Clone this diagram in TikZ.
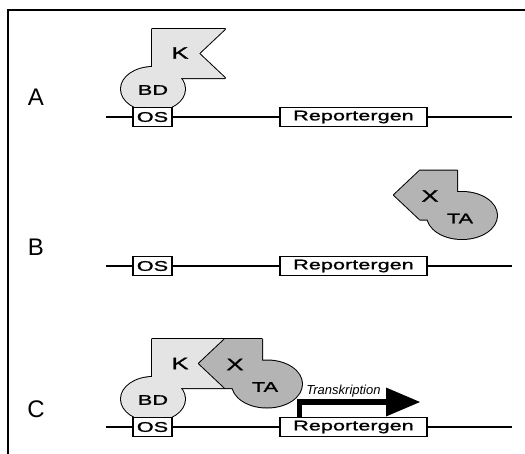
\documentclass[tikz,border=0pt]{standalone}
\usepackage{fontspec}
\setmainfont{Liberation Sans}
\newfontfamily\widesans[FakeStretch=1.55, FakeBold=1.3]{Liberation Sans}
\definecolor{bdgray}{RGB}{228,228,228}
\definecolor{tagray}{RGB}{180,180,180}

% outlines of the two fusion proteins (drawn at their positions in rows A and B)
\def\kpath{(152,29) -- (225,29) -- (199,53.5) -- (225,78) -- (152,78) -- cycle}
\def\bdblob{(153,89) ellipse [x radius=32pt, y radius=22pt]}
\def\xpath{(394,195) -- (420,170.5) -- (457,170.5) -- (457,205) -- (440,219.5) -- (420,219.5) -- cycle}
\def\tablob{(462,215.5) ellipse [x radius=35pt, y radius=23.5pt]}

\begin{document}
\begin{tikzpicture}[x=1pt, y=-1pt,
  frameline/.style={line width=1.5pt},
  dnaline/.style={line width=1.4pt},
  genebox/.style={draw, line width=1.4pt, fill=white, minimum height=19pt,
    inner sep=0pt, font=\widesans\fontsize{14}{14}\selectfont},
  rowlabel/.style={font=\fontsize{24}{24}\selectfont},
  domaintext/.style={font=\widesans\fontsize{14}{14}\selectfont},
  bigdomaintext/.style={font=\widesans\fontsize{16.5}{16.5}\selectfont},
  shapeoutline/.style={line width=2pt, line join=round},
  txlabel/.style={font=\itshape\fontsize{13}{13}\selectfont},
]
\useasboundingbox (0,0) rectangle (525,453);

% frame
\draw[frameline] (8,460) -- (8,10) -- (530,10);

% row labels
\node[rowlabel] (lA) at (36,97) {A};
\node[rowlabel] (lB) at (36,247) {B};
\node[rowlabel] (lC) at (36,409) {C};

% ---------- row A ----------
\coordinate (sA) at (106,117);
\coordinate (eA) at (512,117);
\draw[dnaline] (sA) -- (eA);
\begin{scope}
  \draw[shapeoutline] \kpath; \draw[shapeoutline] \bdblob;
  \fill[bdgray] \kpath; \fill[bdgray] \bdblob;
\end{scope}
\node[bigdomaintext] (kA) at (180,53) {K};
\node[domaintext] (bdA) at (153,90) {BD};
\node[genebox, minimum width=39pt] (osA) at (152.5,117) {OS};
\node[genebox, minimum width=147pt] (repA) at (353.5,117) {Reportergen};

% ---------- row B ----------
\coordinate (sB) at (106,266);
\coordinate (eB) at (512,266);
\draw[dnaline] (sB) -- (eB);
\begin{scope}
  \draw[shapeoutline] \xpath; \draw[shapeoutline] \tablob;
  \fill[tagray] \xpath; \fill[tagray] \tablob;
\end{scope}
\node[bigdomaintext] (xB) at (430,196) {X};
\node[domaintext] (taB) at (460,218.5) {TA};
\node[genebox, minimum width=39pt] (osB) at (152.5,266) {OS};
\node[genebox, minimum width=147pt] (repB) at (353.5,266) {Reportergen};

% ---------- row C ----------
\coordinate (sC) at (106,427);
\coordinate (eC) at (512,427);
\draw[dnaline] (sC) -- (eC);
\begin{scope}[shift={(0,310)}]
  \draw[shapeoutline] \kpath; \draw[shapeoutline] \bdblob;
  \fill[bdgray] \kpath; \fill[bdgray] \bdblob;
\end{scope}
\begin{scope}[shift={(-195,168.5)}]
  \draw[shapeoutline] \xpath; \draw[shapeoutline] \tablob;
  \fill[tagray] \xpath; \fill[tagray] \tablob;
\end{scope}
\node[bigdomaintext] (kC) at (180,363.5) {K};
\node[domaintext] (bdC) at (153,400) {BD};
\node[bigdomaintext] (xC) at (235,364.5) {X};
\node[domaintext] (taC) at (265,387) {TA};

% transcription start arrow
\coordinate (tss) at (299.5,420);
\coordinate (bend) at (299.5,402);
\coordinate (headbase) at (388,402);
\draw[line width=5.5pt, line join=miter] (tss) -- (bend) -- (headbase);
\fill (386,387.5) -- (420,402) -- (386,416.5) -- cycle;
\node[txlabel] (tx) at (343.5,391) {Transkription};

\node[genebox, minimum width=39pt] (osC) at (152.5,427) {OS};
\node[genebox, minimum width=147pt] (repC) at (353.5,427) {Reportergen};
\end{tikzpicture}
\end{document}
